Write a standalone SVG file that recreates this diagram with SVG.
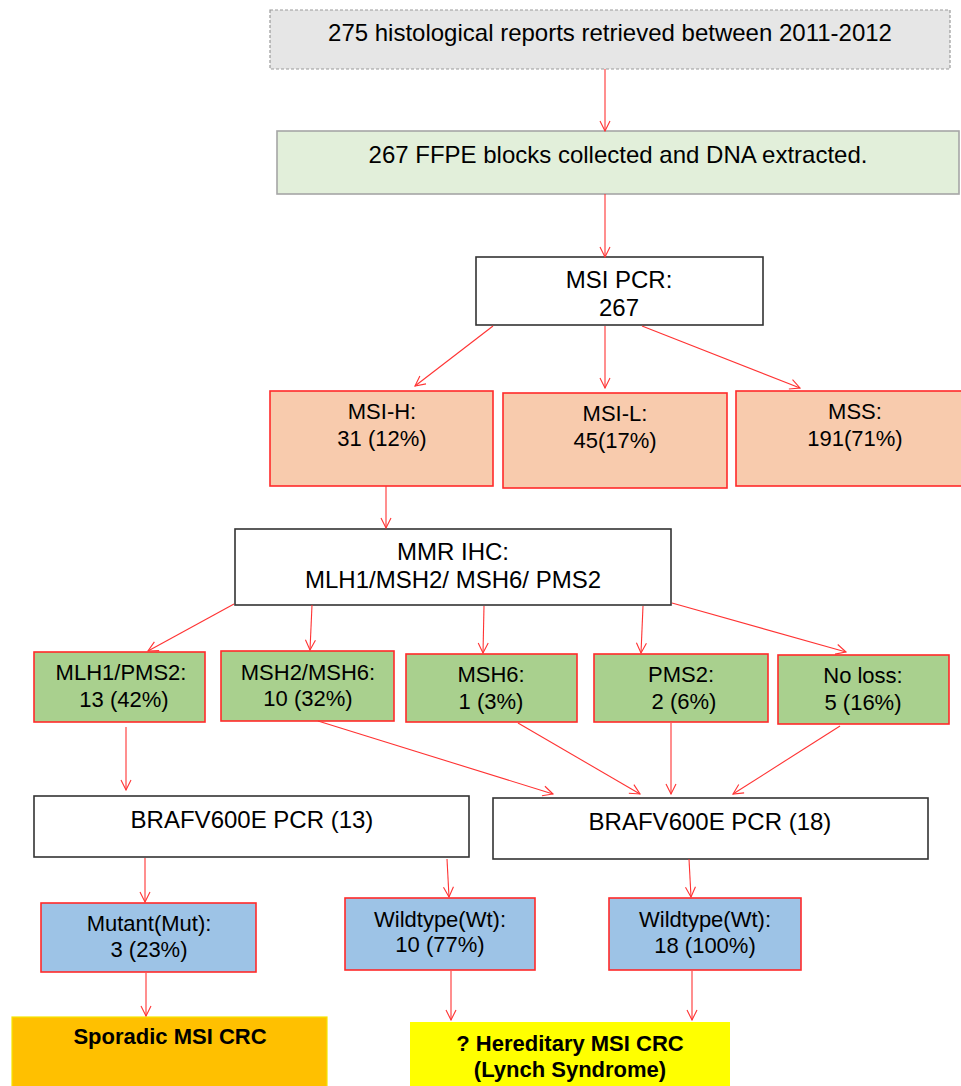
<svg xmlns="http://www.w3.org/2000/svg" width="961" height="1086" viewBox="0 0 961 1086">
<style>
text{font-family:"Liberation Sans",Arial,sans-serif;fill:#000;text-anchor:middle}
.t24{font-size:24px}
.t22{font-size:22px}
.b22{font-size:22px;font-weight:bold}
.wh{fill:#fff;stroke:#333;stroke-width:1.6}
.or{fill:#f8cbad;stroke:#ff2a2a;stroke-width:1.6}
.gr{fill:#a9d08e;stroke:#ff2a2a;stroke-width:1.6}
.bl{fill:#9dc3e6;stroke:#ff2a2a;stroke-width:1.6}
.cn line{stroke:#ff3333;stroke-width:1.1;fill:none}
</style>
<defs>
<marker id="ah" viewBox="0 0 12 12" refX="11" refY="6" markerWidth="12" markerHeight="12" markerUnits="userSpaceOnUse" orient="auto">
<path d="M1,1 L11,6 L1,11" fill="none" stroke="#ff3333" stroke-width="1.1"/>
</marker>
</defs>
<rect width="961" height="1086" fill="#fff"/>
<g id="n-reports">
<rect x="270" y="10" width="680" height="59" fill="#e6e6e6" stroke="#9a9a9a" stroke-width="1.2" stroke-dasharray="3,2"/>
<text class="t24" x="610" y="41">275 histological reports retrieved between 2011-2012</text>
</g>
<g id="n-ffpe">
<rect x="277" y="131" width="682" height="63" fill="#e2efda" stroke="#a6a6a6" stroke-width="1.6"/>
<text class="t24" x="618" y="163">267 FFPE blocks collected and DNA extracted.</text>
</g>
<g id="n-msipcr">
<rect class="wh" x="476" y="257" width="287" height="68"/>
<text class="t24" x="619" y="288">MSI PCR:</text>
<text class="t24" x="619" y="316">267</text>
</g>
<g id="n-msih">
<rect class="or" x="270" y="391" width="223" height="95"/>
<text class="t22" x="382" y="419">MSI-H:</text>
<text class="t22" x="382" y="446">31 (12%)</text>
</g>
<g id="n-msil">
<rect class="or" x="503" y="393" width="224" height="95"/>
<text class="t22" x="615" y="421">MSI-L:</text>
<text class="t22" x="615" y="448">45(17%)</text>
</g>
<g id="n-mss">
<rect class="or" x="736" y="391" width="240" height="95"/>
<text class="t22" x="855" y="419">MSS:</text>
<text class="t22" x="855" y="446">191(71%)</text>
</g>
<g id="n-mmr">
<rect class="wh" x="235" y="529" width="436" height="76"/>
<text class="t24" x="453" y="560">MMR IHC:</text>
<text class="t24" x="453" y="588">MLH1/MSH2/ MSH6/ PMS2</text>
</g>
<g id="n-mlh1">
<rect class="gr" x="34" y="652" width="171" height="70"/>
<text class="t22" x="121" y="680">MLH1/PMS2:</text>
<text class="t22" x="124" y="707">13 (42%)</text>
</g>
<g id="n-msh2">
<rect class="gr" x="221" y="651" width="173" height="70"/>
<text class="t22" x="308" y="680">MSH2/MSH6:</text>
<text class="t22" x="308" y="706">10 (32%)</text>
</g>
<g id="n-msh6">
<rect class="gr" x="406" y="654" width="171" height="68"/>
<text class="t22" x="491" y="682">MSH6:</text>
<text class="t22" x="491" y="709">1 (3%)</text>
</g>
<g id="n-pms2">
<rect class="gr" x="594" y="654" width="174" height="68"/>
<text class="t22" x="681" y="682">PMS2:</text>
<text class="t22" x="684" y="709">2 (6%)</text>
</g>
<g id="n-noloss">
<rect class="gr" x="778" y="655" width="171" height="69"/>
<text class="t22" x="863" y="683">No loss:</text>
<text class="t22" x="863" y="710">5 (16%)</text>
</g>
<g id="n-braf13">
<rect class="wh" x="34" y="796" width="435" height="61"/>
<text class="t24" x="252" y="828">BRAFV600E PCR (13)</text>
</g>
<g id="n-braf18">
<rect class="wh" x="493" y="798" width="435" height="61"/>
<text class="t24" x="710" y="830">BRAFV600E PCR (18)</text>
</g>
<g id="n-mut">
<rect class="bl" x="41" y="903" width="215" height="69"/>
<text class="t22" x="149" y="931">Mutant(Mut):</text>
<text class="t22" x="149" y="957">3 (23%)</text>
</g>
<g id="n-wt10">
<rect class="bl" x="345" y="898" width="190" height="72"/>
<text class="t22" x="440" y="927">Wildtype(Wt):</text>
<text class="t22" x="440" y="952">10 (77%)</text>
</g>
<g id="n-wt18">
<rect class="bl" x="609" y="898" width="192" height="72"/>
<text class="t22" x="705" y="927">Wildtype(Wt):</text>
<text class="t22" x="705" y="953">18 (100%)</text>
</g>
<g id="n-sporadic">
<rect x="12" y="1017" width="315" height="75" fill="#ffc000" stroke="#f5e400" stroke-width="1.2"/>
<text class="b22" x="170" y="1044">Sporadic MSI CRC</text>
</g>
<g id="n-hereditary">
<rect x="410" y="1022" width="320" height="70" fill="#ffff00"/>
<text class="b22" x="570" y="1051">? Hereditary MSI CRC</text>
<text class="b22" x="570" y="1077">(Lynch Syndrome)</text>
</g>
<g id="connectors" class="cn">
<line x1="605" y1="69" x2="605" y2="131" marker-end="url(#ah)"/>
<line x1="605" y1="194" x2="605" y2="257" marker-end="url(#ah)"/>
<line x1="493" y1="326" x2="415" y2="386" marker-end="url(#ah)"/>
<line x1="605" y1="326" x2="605" y2="388" marker-end="url(#ah)"/>
<line x1="642" y1="326" x2="800" y2="388" marker-end="url(#ah)"/>
<line x1="386" y1="486" x2="386" y2="528" marker-end="url(#ah)"/>
<line x1="234" y1="604" x2="148" y2="651" marker-end="url(#ah)"/>
<line x1="312" y1="605" x2="310" y2="650" marker-end="url(#ah)"/>
<line x1="484" y1="606" x2="483" y2="653" marker-end="url(#ah)"/>
<line x1="643" y1="606" x2="641" y2="653" marker-end="url(#ah)"/>
<line x1="672" y1="603" x2="846" y2="652" marker-end="url(#ah)"/>
<line x1="126" y1="727" x2="126" y2="790" marker-end="url(#ah)"/>
<line x1="318" y1="721" x2="553" y2="794" marker-end="url(#ah)"/>
<line x1="518" y1="723" x2="640" y2="794" marker-end="url(#ah)"/>
<line x1="671" y1="723" x2="671" y2="794" marker-end="url(#ah)"/>
<line x1="840" y1="726" x2="733" y2="794" marker-end="url(#ah)"/>
<line x1="145" y1="858" x2="145" y2="902" marker-end="url(#ah)"/>
<line x1="447" y1="859" x2="449" y2="897" marker-end="url(#ah)"/>
<line x1="689" y1="859" x2="691" y2="897" marker-end="url(#ah)"/>
<line x1="146" y1="973" x2="146" y2="1016" marker-end="url(#ah)"/>
<line x1="451" y1="971" x2="451" y2="1020" marker-end="url(#ah)"/>
<line x1="692" y1="971" x2="692" y2="1020" marker-end="url(#ah)"/>
</g>
</svg>
